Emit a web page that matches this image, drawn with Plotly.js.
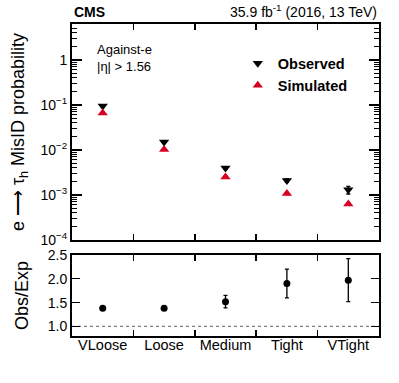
<!DOCTYPE html>
<html>
<head>
<meta charset="utf-8">
<script src="https://cdn.plot.ly/plotly-3.0.1.min.js"></script>
<style>
  html, body { margin: 0; padding: 0; background: #fff; }
  #chart { width: 399px; height: 383px; }
</style>
</head>
<body>
<div id="chart"></div>
<script>
// working points
var wps = ['VLoose', 'Loose', 'Medium', 'Tight', 'VTight'];

// misID probability, data and simulation
var observed = [0.095, 0.015, 0.0040, 0.0021, 0.0013];
var observedErr = [0.004, 0.0006, 0.00025, 0.00018, 0.00025];
var simulated = [0.066, 0.0102, 0.0025, 0.00108, 0.00063];
var simulatedErr = [0.002, 0.0003, 0.0001, 0.00005, 0.00004];

// ratio panel
var ratio = [1.38, 1.38, 1.52, 1.90, 1.97];
var ratioErr = [0.01, 0.01, 0.13, 0.30, 0.45];

var red = 'rgb(215,0,35)';
var fnt = 'Liberation Sans, Arial, Helvetica, sans-serif';

// minor ticks of the log axis: 2..9 x 10^n
var minorVals = [];
for (var e = -4; e <= 0; e++) {
  for (var m = 2; m <= 9; m++) minorVals.push(m * Math.pow(10, e));
}

var traces = [
  {
    x: wps, y: observed, type: 'scatter', mode: 'markers', name: 'Observed',
    marker: {symbol: 'triangle-down', size: 9, color: 'black'},
    error_y: {type: 'data', array: observedErr, color: 'black', thickness: 1.5, width: 2},
    xaxis: 'x', yaxis: 'y'
  },
  {
    x: wps, y: simulated, type: 'scatter', mode: 'markers', name: 'Simulated',
    marker: {symbol: 'triangle-up', size: 9, color: red},
    error_y: {type: 'data', array: simulatedErr, color: red, thickness: 1.5, width: 2},
    xaxis: 'x', yaxis: 'y'
  },
  {
    x: wps, y: ratio, type: 'scatter', mode: 'markers', showlegend: false,
    marker: {symbol: 'circle', size: 7, color: 'black'},
    error_y: {type: 'data', array: ratioErr, color: 'black', thickness: 1.3, width: 2},
    xaxis: 'x2', yaxis: 'y2'
  }
];

var frame = {
  showline: true, linecolor: 'black', linewidth: 2, mirror: 'allticks',
  ticks: 'inside', tickcolor: 'black', tickwidth: 1.5, showgrid: false, zeroline: false
};

var layout = {
  width: 399, height: 383,
  margin: {l: 72, r: 20, t: 24, b: 47},
  paper_bgcolor: 'white', plot_bgcolor: 'white',
  font: {family: fnt, color: 'black', size: 14},
  showlegend: true,
  legend: {
    x: 0.54, y: 0.925, xanchor: 'left', yanchor: 'top',
    bgcolor: 'rgba(0,0,0,0)', font: {size: 14.5, family: fnt, weight: 'bold'},
    itemwidth: 30
  },
  xaxis: Object.assign({}, frame, {
    anchor: 'y', matches: 'x2', type: 'category', tickson: 'boundaries',
    showticklabels: false, ticklen: 6
  }),
  yaxis: Object.assign({}, frame, {
    domain: [0.3077, 1], type: 'log', range: [-4, 0.8],
    tickvals: [1e-4, 1e-3, 1e-2, 1e-1, 1],
    ticktext: ['10<sup>−4</sup>', '10<sup>−3</sup>', '10<sup>−2</sup>', '10<sup>−1</sup>', '1'],
    ticklen: 10,
    minor: {tickvals: minorVals, ticks: 'inside', ticklen: 5, tickcolor: 'black', tickwidth: 1, showgrid: false},
    title: {text: 'e ⟶ τ<sub>h</sub> MisID probability', font: {size: 18}, standoff: 11}
  }),
  xaxis2: Object.assign({}, frame, {
    anchor: 'y2', type: 'category', tickson: 'boundaries', ticklen: 6,
    range: [-0.5, 4.5], tickfont: {size: 14.5}, tickangle: 0, ticklabelstandoff: -5
  }),
  yaxis2: Object.assign({}, frame, {
    domain: [0, 0.26], range: [0.8, 2.5],
    tickvals: [1.0, 1.5, 2.0, 2.5], tickformat: '.1f', ticklen: 8,
    title: {text: 'Obs/Exp', font: {size: 18}, standoff: 14}
  }),
  shapes: [{
    type: 'line', xref: 'x2 domain', yref: 'y2', x0: 0, x1: 1, y0: 1, y1: 1,
    line: {color: 'gray', width: 1.2, dash: 'dot'}, layer: 'below'
  }],
  annotations: [
    {text: '<b>CMS</b>', xref: 'paper', yref: 'paper', x: 0, y: 1, yshift: 2,
     xanchor: 'left', yanchor: 'bottom', showarrow: false, font: {size: 14}},
    {text: '35.9 fb<sup>-1</sup> (2016, 13 TeV)', xref: 'paper', yref: 'paper', x: 1, y: 1, yshift: 2,
     xanchor: 'right', yanchor: 'bottom', showarrow: false, font: {size: 14}},
    {text: 'Against-e<br>|η| > 1.56', xref: 'paper', yref: 'paper', x: 0.075, y: 0.95,
     xanchor: 'left', yanchor: 'top', align: 'left', showarrow: false, font: {size: 13}}
  ]
};

Plotly.newPlot('chart', traces, layout, {displayModeBar: false, staticPlot: true});
</script>
</body>
</html>
